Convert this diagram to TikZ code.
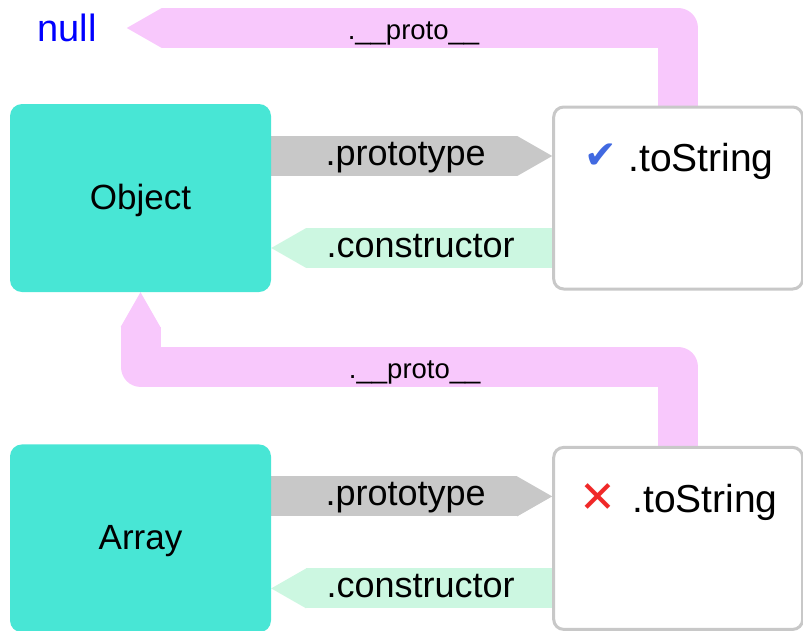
\documentclass[tikz,border=0pt]{standalone}
\usepackage{fontspec}
\setmainfont{Liberation Sans}
\newfontfamily\symfont{DejaVu Sans}
\usepackage{tikz}
\usetikzlibrary{arrows.meta,positioning,backgrounds,calc}
\definecolor{classcol}{RGB}{72,230,213}
\definecolor{chaincol}{RGB}{248,200,252}
\definecolor{linkcol}{RGB}{200,200,200}
\definecolor{ctorcol}{RGB}{204,247,225}
\definecolor{okblue}{RGB}{65,105,225}
\definecolor{badred}{RGB}{240,40,40}
\newcommand{\fsz}[1]{\fontsize{#1}{#1}\selectfont}

\begin{document}
\begin{tikzpicture}[
  x=1pt, y=-1pt,
  classbox/.style={fill=classcol, rounded corners=12pt, minimum width=261pt,
                   minimum height=188pt, font=\fsz{35}, text height=22pt, text depth=0pt},
  protobox/.style={draw=linkcol, line width=3pt, fill=white, rounded corners=10pt,
                   minimum width=249pt, minimum height=182pt},
  member/.style={inner sep=0pt, anchor=base west, font=\fsz{39}},
  fat/.style={line width=40pt},
  tip/.style={-{Triangle[length=35pt 0 0, width=40pt 0 0, line width=0pt]}},
  protolink/.style={fat, tip, draw=linkcol},
  ctorlink/.style={fat, tip, draw=ctorcol},
  chain/.style={fat, tip, draw=chaincol, line join=round},
  lbl/.style={font=\fsz{36}, inner sep=0pt, text height=18pt, text depth=0pt},
  chainlbl/.style={font=\fsz{27.5}, inner sep=0pt, text height=23pt, text depth=0pt},
  ]
  \useasboundingbox (0,0) rectangle (803,630);
  \node[classbox] (obj) at (140.5,198) {Object};
  \node[protobox, right=281pt of obj] (objproto) {};
  \node[classbox, below=152pt of obj] (arr) {Array};
  \node[protobox, right=281pt of arr] (arrproto) {};
  \node[font=\fsz{38}, text=blue, inner sep=0pt] (null) at (67,28) {null};
  \node[member] (objmeth) at ($(objproto.north west)+(32pt,-66pt)$)
    {\makebox[44pt][l]{\symfont\fsz{39}\color{okblue}\raisebox{3pt}{✔}}.toString};
  \node[member] (arrmeth) at ($(arrproto.north west)+(27pt,-67pt)$)
    {\makebox[53pt][l]{\symfont\fsz{44}\color{badred}✕}.toString};
  \begin{scope}[on background layer]
    \draw[protolink] ($(obj.east)+(0pt,42pt)$) -- ($(obj.east -| objproto.west)+(0pt,42pt)$)
      node[lbl, midway, xshift=-6pt] {.prototype};
    \draw[ctorlink] ($(objproto.west)+(0pt,-50pt)$) -- ($(objproto.west -| obj.east)+(0pt,-50pt)$)
      node[lbl, midway, xshift=9pt] {.constructor};
    \draw[protolink] ($(arr.east)+(0pt,42pt)$) -- ($(arr.east -| arrproto.west)+(0pt,42pt)$)
      node[lbl, midway, xshift=-6pt] {.prototype};
    \draw[ctorlink] ($(arrproto.west)+(0pt,-50pt)$) -- ($(arrproto.west -| arr.east)+(0pt,-50pt)$)
      node[lbl, midway, xshift=9pt] {.constructor};
    \draw[chain] (objproto.north) |- ($(null.east)+(30pt,0pt)$)
      node[chainlbl, pos=0.74] {.\_\_proto\_\_};
    \draw[chain] (arrproto.north) -- ++(0pt,79pt) -| (obj.south)
      node[chainlbl, pos=0.245] {.\_\_proto\_\_};
  \end{scope}
\end{tikzpicture}
\end{document}
